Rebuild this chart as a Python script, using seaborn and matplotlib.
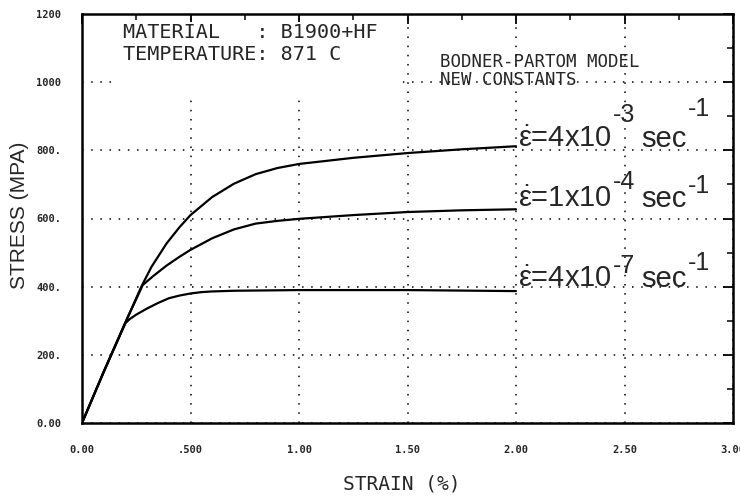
import matplotlib
matplotlib.use("Agg")
import matplotlib.pyplot as plt
import matplotlib.transforms as mtransforms
from matplotlib.patches import Rectangle
from matplotlib.ticker import MultipleLocator, FixedFormatter, FixedLocator
import pandas as pd
import seaborn as sns

# Bodner-Partom model, B1900+Hf at 871 C: stress-strain response at three strain rates
strain_fast = [0.0, 0.10, 0.20, 0.275, 0.32, 0.39, 0.45, 0.50, 0.60, 0.70, 0.80, 0.90, 1.00,
               1.25, 1.50, 1.75, 2.00]
stress_fast = [0, 150, 295, 402, 458, 527, 575, 610, 663, 702, 730, 748, 760,
               778, 792, 803, 812]

strain_mid = [0.0, 0.10, 0.20, 0.28, 0.33, 0.39, 0.45, 0.50, 0.60, 0.70, 0.80, 0.90, 1.00,
              1.25, 1.50, 1.75, 2.00]
stress_mid = [0, 150, 295, 405, 432, 462, 488, 508, 542, 568, 585, 593, 599,
              610, 619, 624, 627]

strain_slow = [0.0, 0.10, 0.20, 0.22, 0.25, 0.30, 0.35, 0.40, 0.45, 0.50, 0.55, 0.60, 0.70,
               1.00, 1.50, 2.00]
stress_slow = [0, 150, 293, 305, 318, 336, 352, 366, 374, 380, 384, 386, 388,
               390, 390, 387]

rate_mantissa = ["4", "1", "4"]
rate_exponent = ["-3", "-4", "-7"]

x_ticks = [0.0, 0.5, 1.0, 1.5, 2.0, 2.5, 3.0]
x_tick_labels = ["0.00", ".500", "1.00", "1.50", "2.00", "2.50", "3.00"]
y_ticks = [0, 200, 400, 600, 800, 1000, 1200]
y_tick_labels = ["0.00", "200.", "400.", "600.", "800.", "1000", "1200"]

sns.set_style("white")
plt.rcParams["font.family"] = ["DejaVu Sans Mono", "DejaVu Sans"]
plt.rcParams["mathtext.fontset"] = "custom"
plt.rcParams["mathtext.rm"] = "Liberation Sans"
plt.rcParams["mathtext.it"] = "Liberation Sans"

frames = []
for name, xs, ys in [("fast", strain_fast, stress_fast),
                     ("mid", strain_mid, stress_mid),
                     ("slow", strain_slow, stress_slow)]:
    frames.append(pd.DataFrame({"strain": xs, "stress": ys, "rate": name}))
df = pd.concat(frames, ignore_index=True)

W, H, DPI = 740, 497, 100
fig = plt.figure(figsize=(W / DPI, H / DPI), dpi=DPI)
ax = fig.add_axes([82 / W, 74 / H, 651 / W, 409 / H])

sns.lineplot(data=df, x="strain", y="stress", hue="rate", palette=["black"] * 3,
             legend=False, estimator=None, sort=False, linewidth=1.6, ax=ax)

ax.set_xlim(0, 3.0)
ax.set_ylim(0, 1200)
ax.set_xlabel("")
ax.set_ylabel("")

ax.xaxis.set_major_locator(FixedLocator(x_ticks))
ax.xaxis.set_major_formatter(FixedFormatter(x_tick_labels))
ax.xaxis.set_minor_locator(MultipleLocator(0.25))
ax.yaxis.set_major_locator(FixedLocator(y_ticks))
ax.yaxis.set_major_formatter(FixedFormatter(y_tick_labels))
ax.yaxis.set_minor_locator(MultipleLocator(100))

ax.tick_params(which="both", direction="in", top=True, right=True, color="black")
ax.tick_params(which="major", length=7, width=1.3)
ax.tick_params(which="minor", length=4, width=1.1)
ax.tick_params(axis="x", pad=16, labelsize=7.5)
ax.tick_params(axis="y", pad=15, labelsize=7.5)
for lab in ax.get_xticklabels() + ax.get_yticklabels():
    lab.set_fontweight("bold")

ax.grid(True, which="major", color="black", linestyle=(0, (1, 5)), linewidth=1.1)
for sp in ax.spines.values():
    sp.set_visible(True)
    sp.set_color("black")
    sp.set_linewidth(1.8)

# blank panel behind the header lines (hides the grid there)
ax.add_patch(Rectangle((0.05, 0.80), 0.44, 0.18, transform=ax.transAxes,
                       facecolor="white", edgecolor="none", zorder=1.5))

# header text in plotter-style lettering
fig.text(123 / W, 1 - 38 / H, "MATERIAL   : B1900+HF", fontsize=14.5, va="baseline")
fig.text(123 / W, 1 - 60 / H, "TEMPERATURE: 871 C", fontsize=14.5, va="baseline")
fig.text(440 / W, 1 - 67 / H, "BODNER-PARTOM MODEL", fontsize=12.5, va="baseline")
fig.text(440 / W, 1 - 85 / H, "NEW CONSTANTS", fontsize=12.5, va="baseline")

fig.text(402 / W, 1 - 490 / H, "STRAIN (%)", fontsize=14, ha="center", va="baseline")
fig.text(20 / W, 1 - 215 / H, "STRESS (MPA)", fontsize=15, family="Liberation Sans",
         rotation=90, ha="center", va="center")

# strain-rate labels built from pieces so the exponents stay near full size
renderer = fig.canvas.get_renderer()
label_font = ["Liberation Sans", "DejaVu Sans"]


def rate_label(x, y, mant, expo, rises):
    pieces = [
        (r"$\dot{\varepsilon}$=" + mant + "x10", 0.0, 0.0, 21),
        (expo, rises[0], 1.0, 18),
        ("sec", 0.0, 6.0, 21),
        ("-1", rises[1], 1.0, 18),
    ]
    dx = 0.0
    for s, rise, gap, size in pieces:
        dx += gap
        tr = mtransforms.offset_copy(ax.transData, fig=fig, x=dx, y=rise * DPI / 72,
                                     units="dots")
        t = ax.text(x, y, s, transform=tr, fontsize=size, family=label_font,
                    va="baseline", ha="left", clip_on=False)
        dx += t.get_window_extent(renderer).width


label_pos_x = [2.01, 2.01, 2.01]
label_pos_y = [810, 634, 399]
label_rises = [(18, 22), (13, 10), (10, 12)]
for i in range(3):
    rate_label(label_pos_x[i], label_pos_y[i], rate_mantissa[i], rate_exponent[i],
               label_rises[i])

fig.savefig("out.png", dpi=DPI, facecolor="white")
